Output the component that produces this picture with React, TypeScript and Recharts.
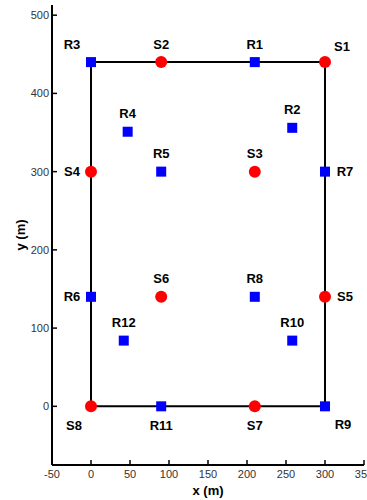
import { ScatterChart, Scatter, XAxis, YAxis } from "recharts";

const sourceNames = ["S1", "S2", "S3", "S4", "S5", "S6", "S7", "S8"];
const sourceX = [300, 90, 210, 0, 300, 90, 210, 0];
const sourceY = [440, 440, 300, 300, 140, 140, 0, 0];

const receiverNames = ["R1", "R2", "R3", "R4", "R5", "R6", "R7", "R8", "R9", "R10", "R11", "R12"];
const receiverX = [210, 258, 0, 47, 90, 0, 300, 210, 300, 258, 90, 42];
const receiverY = [440, 356, 440, 351, 300, 140, 300, 140, 0, 84, 0, 84];

// site boundary
const outlineX = [0, 300, 300, 0, 0];
const outlineY = [0, 0, 440, 440, 0];

const xTicks = [-50, 0, 50, 100, 150, 200, 250, 300, 350];
const yTicks = [0, 100, 200, 300, 400, 500];

// where each name sits relative to its marker
const labelSide: Record<string, string> = {
  S1: "aboveRight", S2: "above", S3: "above", S4: "left",
  S5: "right", S6: "above", S7: "below", S8: "belowLeft",
  R1: "above", R2: "above", R3: "aboveLeft", R4: "above",
  R5: "above", R6: "left", R7: "right", R8: "above",
  R9: "belowRight", R10: "above", R11: "below", R12: "above",
};

const sideOffset: Record<string, [number, number]> = {
  above: [0, -18],
  below: [0, 19],
  left: [-19, 0],
  right: [20, 0],
  aboveLeft: [-19, -18],
  aboveRight: [17, -16],
  belowLeft: [-17, 19],
  belowRight: [18, 18],
};

const sources = sourceNames.map((name, i) => ({ name, x: sourceX[i], y: sourceY[i] }));
const receivers = receiverNames.map((name, i) => ({ name, x: receiverX[i], y: receiverY[i] }));
const outline = outlineX.map((x, i) => ({ x, y: outlineY[i] }));

function PointLabel({ cx, cy, name }: { cx: number; cy: number; name: string }) {
  const [dx, dy] = sideOffset[labelSide[name]] || [0, -18];
  return (
    <text
      x={cx + dx}
      y={cy + dy}
      textAnchor="middle"
      dominantBaseline="central"
      fontSize={13}
      fontWeight="bold"
      fill="#000"
    >
      {name}
    </text>
  );
}

function SourceShape(props: any) {
  const { cx, cy, payload } = props;
  return (
    <g>
      <circle cx={cx} cy={cy} r={6} fill="#ff0000" />
      <PointLabel cx={cx} cy={cy} name={payload.name} />
    </g>
  );
}

function ReceiverShape(props: any) {
  const { cx, cy, payload } = props;
  return (
    <g>
      <rect x={cx - 5} y={cy - 5} width={10} height={10} fill="#0000ff" />
      <PointLabel cx={cx} cy={cy} name={payload.name} />
    </g>
  );
}

const axisStroke = { stroke: "#000", strokeWidth: 2 };
const tickStyle = { fontSize: 11, fill: "#333" };

export default function App() {
  return (
    <div
      style={{
        position: "absolute",
        left: 0,
        top: 0,
        fontFamily: "'Liberation Sans', Arial, sans-serif",
      }}
    >
      <ScatterChart
        width={367}
        height={500}
        margin={{ top: 5, right: 3, bottom: 0, left: 0 }}
      >
        <XAxis
          type="number"
          dataKey="x"
          domain={[-50, 350]}
          ticks={xTicks}
          allowDataOverflow
          height={35}
          tickSize={-5}
          tickMargin={10}
          axisLine={axisStroke}
          tickLine={{ stroke: "#000", strokeWidth: 1.5 }}
          tick={tickStyle}
          interval={0}
          label={{
            content: (p: any) => {
              const vb = p.viewBox;
              return (
                <text
                  x={vb.x + vb.width / 2}
                  y={vb.y + 25}
                  textAnchor="middle"
                  dominantBaseline="central"
                  fontSize={13}
                  fontWeight="bold"
                  fill="#000"
                >
                  x (m)
                </text>
              );
            },
          }}
        />
        <XAxis
          xAxisId="top"
          orientation="top"
          type="number"
          domain={[-50, 350]}
          ticks={xTicks}
          allowDataOverflow
          height={0}
          mirror
          tickSize={5}
          tickFormatter={() => ""}
          axisLine={axisStroke}
          tickLine={{ stroke: "#000", strokeWidth: 1.5 }}
          interval={0}
        />
        <YAxis
          type="number"
          dataKey="y"
          domain={[-75, 513]}
          ticks={yTicks}
          allowDataOverflow
          width={52}
          tickSize={-5}
          tickMargin={8}
          axisLine={axisStroke}
          tickLine={{ stroke: "#000", strokeWidth: 1.5 }}
          tick={tickStyle}
          interval={0}
          label={{
            content: (p: any) => {
              const vb = p.viewBox;
              const cx = vb.x + 20;
              const cy = vb.y + vb.height / 2;
              return (
                <text
                  x={cx}
                  y={cy}
                  transform={`rotate(-90 ${cx} ${cy})`}
                  textAnchor="middle"
                  dominantBaseline="central"
                  fontSize={13}
                  fontWeight="bold"
                  fill="#000"
                >
                  y (m)
                </text>
              );
            },
          }}
        />
        <YAxis
          yAxisId="right"
          orientation="right"
          type="number"
          domain={[-75, 513]}
          ticks={yTicks}
          allowDataOverflow
          width={0}
          mirror
          tickSize={5}
          tickFormatter={() => ""}
          axisLine={axisStroke}
          tickLine={{ stroke: "#000", strokeWidth: 1.5 }}
          interval={0}
        />
        <Scatter
          data={outline}
          line={{ stroke: "#000", strokeWidth: 2 }}
          lineType="joint"
          shape={() => <g />}
          isAnimationActive={false}
        />
        <Scatter
          data={receivers}
          shape={ReceiverShape}
          isAnimationActive={false}
        />
        <Scatter
          data={sources}
          shape={SourceShape}
          isAnimationActive={false}
        />
      </ScatterChart>
    </div>
  );
}
